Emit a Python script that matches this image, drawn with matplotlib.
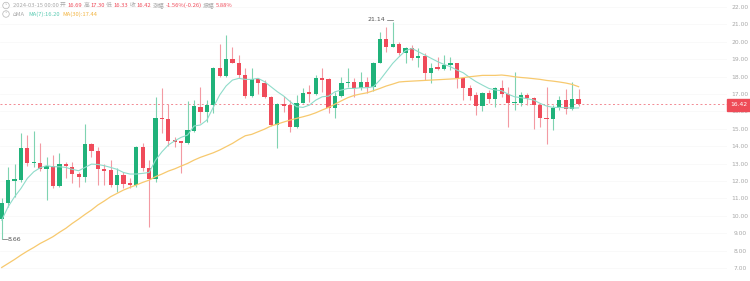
import numpy as np
import matplotlib
matplotlib.use('Agg')
import matplotlib.pyplot as plt
from matplotlib.patches import Rectangle, Ellipse

# daily candles (oldest first)
opens = [9.79, 10.75, 12.00, 12.05, 13.91, 13.05, 13.05, 12.70, 12.88, 11.71,
         12.97, 12.82, 12.38, 12.25, 14.10, 13.70, 12.67, 12.63, 11.77, 12.34,
         11.86, 11.77, 13.97, 12.72, 12.13, 15.64, 15.58, 14.35, 14.29, 14.16,
         14.89, 16.27, 15.98, 16.36, 18.47, 18.03, 18.99, 18.80, 18.09, 16.88,
         17.84, 17.65, 16.84, 15.21, 16.42, 16.36, 15.12, 16.50, 17.09, 16.99,
         17.90, 17.84, 16.17, 16.88, 17.61, 17.71, 17.32, 17.71, 17.42, 18.80,
         20.14, 19.72, 19.85, 19.37, 19.66, 19.05, 19.18, 18.22, 18.53, 18.41,
         18.66, 18.76, 17.94, 17.32, 16.94, 16.31, 17.03, 16.69, 17.32, 16.99,
         16.46, 16.50, 16.94, 16.75, 16.36, 15.64, 15.54, 16.21, 16.65, 16.12,
         16.69]
highs = [11.00, 12.80, 13.00, 14.74, 14.65, 14.87, 14.16, 13.40, 13.49, 13.62,
         13.10, 13.10, 12.53, 15.25, 14.16, 13.97, 13.00, 13.20, 12.72, 12.53,
         12.15, 14.00, 14.16, 13.20, 16.80, 17.32, 16.42, 14.50, 14.31, 16.60,
         16.65, 17.38, 16.65, 18.55, 19.90, 20.39, 19.70, 19.24, 18.47, 18.47,
         17.90, 17.80, 16.88, 16.46, 16.88, 16.65, 16.94, 17.32, 17.51, 18.09,
         18.47, 17.90, 17.13, 17.99, 18.47, 17.90, 18.28, 17.95, 18.86, 20.58,
         20.87, 21.14, 20.00, 19.72, 19.81, 19.62, 19.33, 18.76, 19.14, 19.24,
         19.14, 18.80, 17.94, 17.51, 17.13, 17.13, 17.23, 17.42, 17.80, 17.42,
         18.24, 17.13, 17.07, 16.84, 16.46, 17.42, 16.36, 16.88, 17.28, 17.70,
         17.30]
lows = [8.66, 10.50, 11.10, 11.95, 12.85, 12.82, 12.60, 10.90, 11.57, 11.67,
        12.20, 11.86, 11.67, 11.92, 13.40, 11.76, 11.76, 11.63, 11.38, 11.57,
        11.57, 11.67, 12.59, 9.33, 11.96, 14.74, 14.00, 13.97, 12.47, 14.12,
        14.83, 15.35, 15.41, 15.88, 17.99, 17.99, 18.76, 17.90, 16.75, 16.80,
        17.00, 16.75, 15.15, 13.87, 15.98, 14.83, 15.02, 16.46, 16.56, 16.94,
        17.13, 15.88, 15.60, 16.80, 17.42, 16.80, 17.23, 17.07, 17.17, 18.76,
        19.43, 19.68, 19.24, 18.76, 18.95, 18.57, 17.80, 17.61, 18.38, 18.38,
        18.38, 17.32, 16.65, 16.65, 15.79, 16.04, 16.46, 16.23, 16.84, 15.08,
        16.10, 16.31, 16.36, 14.97, 15.12, 14.12, 14.93, 16.08, 15.85, 16.08,
        16.33]
closes = [10.75, 12.05, 12.10, 13.91, 13.05, 13.06, 12.67, 12.86, 11.71, 12.97,
          12.86, 12.38, 12.25, 14.10, 13.70, 12.67, 12.59, 11.77, 12.34, 11.82,
          11.77, 13.97, 12.72, 12.13, 15.64, 15.54, 14.29, 14.26, 14.16, 14.93,
          16.31, 15.98, 16.36, 18.47, 18.03, 18.99, 18.80, 18.09, 16.88, 17.84,
          17.65, 16.84, 15.21, 16.42, 16.31, 15.12, 16.50, 17.03, 16.99, 17.90,
          17.80, 16.21, 16.88, 17.65, 17.71, 17.32, 17.71, 17.42, 18.80, 20.14,
          19.72, 19.85, 19.37, 19.66, 19.05, 19.18, 18.22, 18.51, 18.41, 18.66,
          18.76, 17.94, 17.32, 16.88, 16.31, 17.03, 16.69, 17.32, 16.99, 16.46,
          16.54, 16.94, 16.75, 16.36, 15.60, 15.54, 16.21, 16.65, 16.12, 16.69,
          16.42]
ma7 = [9.75, 10.52, 11.09, 11.57, 12.15, 12.53, 12.76, 12.88, 12.82, 12.82,
       12.78, 12.67, 12.59, 12.78, 12.97, 12.95, 12.88, 12.78, 12.67, 12.49,
       12.40, 12.40, 12.44, 12.49, 13.20, 13.68, 14.07, 14.31, 14.51, 14.64,
       15.16, 15.22, 15.50, 16.23, 16.94, 17.46, 17.80, 17.90, 17.84, 17.84,
       17.90, 17.71, 17.42, 17.13, 16.88, 16.56, 16.27, 16.23, 16.36, 16.65,
       16.84, 16.88, 17.13, 17.23, 17.32, 17.32, 17.36, 17.36, 17.42, 17.80,
       18.28, 18.76, 19.14, 19.49, 19.62, 19.43, 19.24, 19.05, 18.86, 18.70,
       18.57, 18.38, 18.22, 17.95, 17.71, 17.51, 17.32, 17.23, 17.19, 16.99,
       16.84, 16.79, 16.73, 16.65, 16.46, 16.31, 16.23, 16.23, 16.21, 16.19,
       16.20]
ma30 = [7.03, 7.26, 7.49, 7.74, 7.97, 8.18, 8.41, 8.60, 8.80, 9.05,
        9.28, 9.56, 9.81, 10.08, 10.33, 10.62, 10.85, 11.10, 11.29, 11.48,
        11.63, 11.77, 11.92, 12.05, 12.25, 12.40, 12.57, 12.70, 12.86, 13.01,
        13.20, 13.36, 13.49, 13.62, 13.78, 13.97, 14.16, 14.39, 14.60, 14.68,
        14.83, 14.98, 15.16, 15.27, 15.39, 15.50, 15.60, 15.69, 15.79, 15.92,
        16.08, 16.23, 16.42, 16.61, 16.79, 16.92, 17.00, 17.07, 17.19, 17.32,
        17.46, 17.57, 17.69, 17.72, 17.74, 17.76, 17.78, 17.80, 17.82, 17.84,
        17.86, 17.88, 17.94, 17.99, 18.03, 18.07, 18.07, 18.07, 18.09, 18.05,
        17.99, 17.95, 17.92, 17.88, 17.84, 17.78, 17.74, 17.69, 17.63, 17.55,
        17.42]
y_ticks = [7, 8, 9, 10, 11, 12, 13, 14, 15, 16, 17, 18, 19, 20, 21, 22]
last_price = 16.42

UP = '#20b27a'
DOWN = '#ef4b5a'
UP_WICK = '#7fd3b1'
DOWN_WICK = '#f39aa3'
GREY = '#a8a8a8'
CJK = ['Noto Sans CJK SC', 'DejaVu Sans']

fig = plt.figure(figsize=(7.5, 2.81), dpi=100)
ax = fig.add_axes([0, 0, 727 / 750, 1])
ax.set_xlim(-0.265, 113.15)
ax.set_ylim(6.253, 22.402)

x = np.arange(len(opens))
o = np.array(opens)
c = np.array(closes)
up = c >= o
colors = np.where(up, UP, DOWN)
wick_colors = np.where(up, UP_WICK, DOWN_WICK)

ax.vlines(x, lows, highs, colors=wick_colors, linewidth=0.8, zorder=3)
body_bottom = np.minimum(o, c)
body_h = np.maximum(np.abs(c - o), 0.07)
ax.bar(x, body_h, bottom=body_bottom, width=0.66, color=colors,
       linewidth=0, zorder=4)

ax.plot(x, ma7, color='#8fdcca', linewidth=0.8, zorder=5)
ax.plot(x, ma30, color='#f7c96e', linewidth=0.9, zorder=5)

# last price line and tag
ax.axhline(last_price, color='#f28a93', linewidth=0.7,
           linestyle=(0, (2, 2.5)), zorder=2)
for t in y_ticks:
    ax.axhline(t, color='#f7f7f7', linewidth=0.5, zorder=0)

ax.yaxis.tick_right()
ax.set_yticks(y_ticks)
ax.set_yticklabels([f'{t:.2f}' for t in y_ticks])
ax.tick_params(axis='y', length=0, pad=9.5, labelsize=4.3, labelcolor=GREY)
for lab in ax.get_yticklabels():
    lab.set_ha('center')
ax.set_xticks([])
for s in ax.spines.values():
    s.set_visible(False)

fig.patches.append(Rectangle((727 / 750, (281 - 110.5) / 281), 23 / 750, 12 / 281,
                             transform=fig.transFigure, color='#ee4b57', zorder=10))
fig.text(738.5 / 750, (281 - 104.5) / 281, f'{last_price:.2f}', color='white',
         fontsize=4.3, ha='center', va='center', zorder=11)

# high / low annotations
i_lo = int(np.argmin(lows))
i_hi = int(np.argmax(highs))
ax.plot([i_lo, i_lo + 0.8], [lows[i_lo], lows[i_lo]], color='#666666', linewidth=0.5)
ax.text(i_lo + 1.0, lows[i_lo], f'{lows[i_lo]:.2f}', color='#555555',
        fontsize=4.5, va='center', ha='left')
ax.plot([i_hi - 0.9, i_hi], [highs[i_hi] + 0.12, highs[i_hi] + 0.12], color='#666666', linewidth=0.5)
ax.text(i_hi - 1.1, highs[i_hi] + 0.12, f'{highs[i_hi]:.2f}', color='#555555',
        fontsize=4.5, va='center', ha='right')

# header rows
renderer = fig.canvas.get_renderer()


def write_run(pieces, x0, y_px, size=4.2, gap=1.3):
    xp = x0
    for txt, col in pieces:
        t = fig.text(xp / 750, 1 - y_px / 281, txt, color=col, fontsize=size,
                     family=CJK, va='center', ha='left')
        bb = t.get_window_extent(renderer)
        xp += bb.width + gap


for cy in (5.5, 14.0):
    fig.patches.append(Ellipse((6.0 / 750, 1 - cy / 281), 6.5 / 750, 6.5 / 281,
                               transform=fig.transFigure, fill=False,
                               edgecolor='#b5b5b5', linewidth=0.5))
    fig.text(6.0 / 750, 1 - (cy + 0.6) / 281, '˅', color='#b5b5b5', fontsize=3.5,
             ha='center', va='center')

write_run([('2024-03-15 00:00', GREY), ('开', GREY), ('16.69', DOWN),
           ('高', GREY), ('17.30', DOWN), ('低', GREY), ('16.33', DOWN),
           ('收', GREY), ('16.42', DOWN), ('涨幅', GREY), ('-1.56%(-0.26)', DOWN),
           ('振幅', GREY), ('5.88%', DOWN)], 13, 5.5)
write_run([('⌂MA', GREY), ('MA(7):16.20', '#5ccbb3'),
           ('MA(30):17.44', '#f2b544')], 13, 14.0, gap=3.0)

fig.savefig('out.png', dpi=100, facecolor='white')
